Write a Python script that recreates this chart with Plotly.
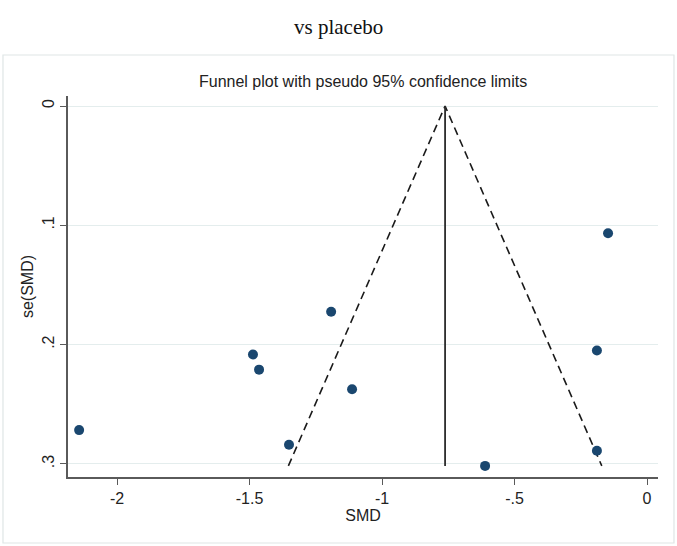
import plotly.graph_objects as go

# Data
smd = [-2.143, -1.192, -1.487, -1.464, -1.113, -1.351, -0.147, -0.189, -0.189, -0.611]
se_smd = [0.2717, 0.1725, 0.2083, 0.221, 0.2375, 0.284, 0.1067, 0.205, 0.289, 0.3017]
pooled = -0.762
z95 = 1.96
x_ticks = [-2, -1.5, -1, -0.5, 0]
x_tick_text = ["-2", "-1.5", "-1", "-.5", "0"]
y_ticks = [0, 0.1, 0.2, 0.3]
y_tick_text = ["0", ".1", ".2", ".3"]

se_max = max(se_smd)

fig = go.Figure()
# Pseudo 95% confidence limits
fig.add_trace(go.Scatter(
    x=[pooled - z95 * se_max, pooled, pooled + z95 * se_max],
    y=[se_max, 0, se_max],
    mode="lines", line=dict(color="#1a1a1a", width=1.6, dash="8px,5px"),
    hoverinfo="skip", showlegend=False))
# Pooled estimate line
fig.add_trace(go.Scatter(
    x=[pooled, pooled], y=[0, se_max],
    mode="lines", line=dict(color="#2b2b2b", width=1.8),
    hoverinfo="skip", showlegend=False))
# Studies
fig.add_trace(go.Scatter(
    x=smd, y=se_smd, mode="markers",
    marker=dict(color="#1a476f", size=10),
    showlegend=False))

font_sans = "Liberation Sans, Arial, sans-serif"

fig.update_layout(
    width=677, height=546,
    margin=dict(l=68, r=19, t=96, b=69),
    paper_bgcolor="white", plot_bgcolor="white",
    font=dict(family=font_sans, size=16, color="#222222"),
    xaxis=dict(
        range=[-2.185, 0.0415], tickvals=x_ticks, ticktext=x_tick_text,
        showgrid=False, zeroline=False,
        showline=True, linecolor="#5a5a5a", linewidth=1.5,
        ticks="outside", ticklen=6, tickcolor="#5a5a5a", tickwidth=1.2,
        tickfont=dict(size=16, color="#222222"),
        title=dict(text="SMD", font=dict(size=16, color="#222222"), standoff=4),
    ),
    yaxis=dict(
        range=[0.311, -0.0084], tickvals=y_ticks, ticktext=y_tick_text,
        tickangle=-90,
        showgrid=True, gridcolor="#e4eded", gridwidth=1, zeroline=False,
        showline=True, linecolor="#5a5a5a", linewidth=1.5,
        ticks="outside", ticklen=6, tickcolor="#5a5a5a", tickwidth=1.2,
        tickfont=dict(size=16, color="#222222"),
        title=dict(text="se(SMD)", font=dict(size=16, color="#222222"), standoff=2),
    ),
    shapes=[dict(
        type="rect", xref="paper", yref="paper",
        x0=-0.1102, x1=1.0271, y0=-0.1732, y1=1.1076,
        line=dict(color="#dfe6e6", width=1.2), fillcolor="rgba(0,0,0,0)",
        layer="below")],
    annotations=[
        dict(text="Funnel plot with pseudo 95% confidence limits",
             xref="paper", yref="paper", x=0.5, y=1.037,
             xanchor="center", yanchor="middle", showarrow=False,
             font=dict(family=font_sans, size=16, color="#222222")),
        dict(text="vs placebo",
             xref="paper", yref="paper", x=(338 - 68) / 590, y=(477 - 27) / 381,
             xanchor="center", yanchor="middle", showarrow=False,
             font=dict(family="Liberation Serif, Times New Roman, serif", size=21, color="#111111")),
    ],
)

fig.write_html("out.html")
